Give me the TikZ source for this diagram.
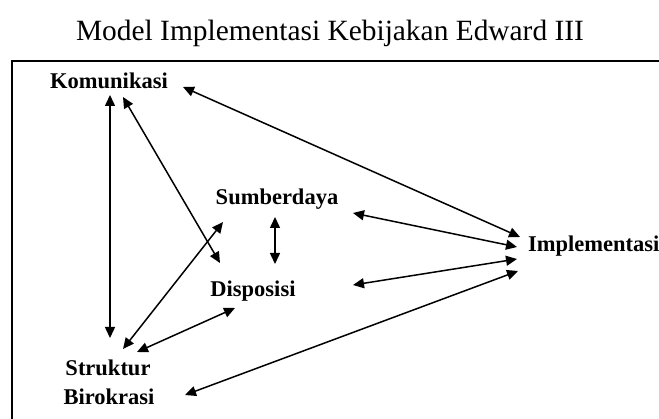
\documentclass[tikz,border=0pt]{standalone}
\usepackage{fontspec}
\setmainfont{Liberation Serif}
\usetikzlibrary{arrows.meta}
\tikzset{
  lbl/.style={inner sep=0pt, anchor=base, font=\fontsize{22.5}{27}\selectfont\bfseries},
  conn/.style={line width=1.5pt, {Triangle[length=11pt,width=10pt]}-{Triangle[length=11pt,width=10pt]}},
  frame/.style={line width=2pt}
}
\begin{document}
\begin{tikzpicture}[x=1pt,y=-1pt]
\useasboundingbox (0,0) rectangle (659,419);
\node[inner sep=0pt, anchor=base, font=\fontsize{29.4}{34}\selectfont] (title) at (330,41) {Model Implementasi Kebijakan Edward III};
\draw[frame] (12,419) -- (12,61) -- (659,61);
\node[lbl] (kom) at (109,89) {Komunikasi};
\node[lbl] (sum) at (277,205) {Sumberdaya};
\node[lbl, anchor=base west] (imp) at (528,252) {Implementasi};
\node[lbl] (dis) at (253,297) {Disposisi};
\node[lbl] (str) at (108,376) {Struktur};
\node[lbl] (bir) at (109,405) {Birokrasi};
% endpoints
\coordinate (k1) at (110,95);  \coordinate (s1) at (110,338);
\coordinate (k2) at (123,97);  \coordinate (d2) at (220,263);
\coordinate (k3) at (183,87);  \coordinate (i3) at (520,237);
\coordinate (u4) at (275,217); \coordinate (d4) at (275,264);
\coordinate (u5) at (223,222); \coordinate (s5) at (123,349);
\coordinate (d6) at (235,308); \coordinate (s6) at (137,352);
\coordinate (u7) at (353,213); \coordinate (i7) at (517,247);
\coordinate (d8) at (353,285); \coordinate (i8) at (517,259);
\coordinate (b9) at (185,395); \coordinate (i9) at (518,271);
\draw[conn] (k1) -- (s1);
\draw[conn] (k2) -- (d2);
\draw[conn] (k3) -- (i3);
\draw[conn] (u4) -- (d4);
\draw[conn] (u5) -- (s5);
\draw[conn] (d6) -- (s6);
\draw[conn] (u7) -- (i7);
\draw[conn] (d8) -- (i8);
\draw[conn] (b9) -- (i9);
\end{tikzpicture}
\end{document}
